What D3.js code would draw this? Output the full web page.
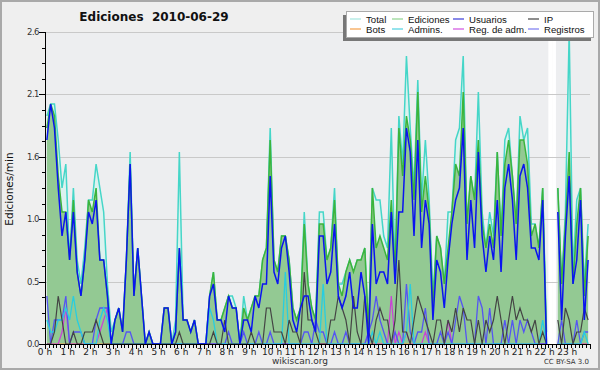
<!DOCTYPE html>
<html><head><meta charset="utf-8">
<script src="https://cdn.jsdelivr.net/npm/d3@7"></script>
<style>body{margin:0;background:#fff}svg{display:block}</style>
</head><body><svg id="c" width="600" height="370"></svg>
<script>
const title = "Ediciones\u00a0\u00a02010-06-29";
const yTitle = "Ediciones/min";
const hourLabels = d3.range(24).map(h => h + " h");
const yTickLabels = ["0.0","0.5","1.0","1.6","2.1","2.6"];
const yMax = 2.6;

// 10-minute bins, edits per minute (144 values)
const total = [
1.9,2.0,2.0,1.7,1.3,1.5,0.7,1.3,0.7,0.5,0.8,1.2,
1.2,1.5,1.3,1.1,0.5,0.1,0.2,0.3,0.1,0.7,1.6,0.4,
0.8,0.4,0,0.1,0,0,0,0.3,0.3,0,0.2,1.6,
0.2,0.2,0.1,0.2,0,0,0,0.4,0.6,0.2,0.2,0.3,
0.4,0.4,0.3,0,0.4,0.2,0.3,0.4,0.4,0.7,0.8,1.8,
0.7,0.6,0.9,0.9,0.7,0.3,0.2,0.3,1.1,0.5,0.3,0.2,
1.1,1.1,0.7,0.8,1.3,0.5,0.5,0.6,0.7,0.6,0.7,0.7,
0.8,0.1,1.3,1.2,1.2,0.9,0.8,1.8,0.6,1.9,1.5,2.4,
1.8,1.3,2.2,1.2,1.7,1.2,0.4,0.9,0.8,0.5,1.1,1.1,
1.7,1.8,2.4,1.0,1.4,1.2,2.1,1.1,0.8,1.1,0.9,1.6,
0.9,1.7,1.8,1.4,1.0,1.9,1.7,1.8,1.0,1.0,0.8,1.3,
0.1,null,null,1.3,0.5,1.1,2.6,0.6,1.2,1.3,0.5,1.0];
const ediciones = [
1.8,2.0,1.9,1.4,1.1,1.1,0.7,1.2,0.6,0.4,0.7,1.2,
1.1,1.3,0.7,0.7,0.4,0,0.2,0.3,0.1,0.7,1.5,0.4,
0.8,0.4,0,0.1,0,0,0,0.3,0.3,0,0.1,0.8,
0.2,0.2,0.1,0.2,0,0,0,0.4,0.6,0.2,0.2,0.3,
0.4,0.3,0.3,0,0.3,0.2,0.3,0.4,0.4,0.7,0.8,1.7,
0.7,0.6,0.9,0.9,0.7,0.3,0.2,0.3,1.0,0.5,0.3,0.2,
1.0,1.0,0.7,0.8,1.2,0.5,0.4,0.6,0.7,0.6,0.7,0.7,
0.8,0.1,1.3,0.8,0.9,0.8,0.7,1.2,0.6,1.8,1.4,1.9,
1.7,1.2,2.1,1.1,1.4,1.1,0.3,0.9,0.8,0.5,0.8,1.1,
1.5,1.4,2.1,1.0,1.4,1.2,1.7,1.0,0.8,1.0,0.8,1.6,
0.9,1.5,1.7,1.4,1.0,1.7,1.7,1.5,0.9,1.0,0.8,1.3,
0,null,null,1.3,0.5,1.0,1.6,0.5,1.0,1.3,0.4,0.9];
const usuarios = [
1.7,2.0,1.8,1.3,0.9,1.1,0.7,1.1,0.6,0.4,0.7,1.1,
1.0,1.2,0.7,0.7,0.4,0,0.2,0.3,0.1,0.7,1.5,0.4,
0.8,0.4,0,0.1,0,0,0,0.3,0.3,0,0.1,0.8,
0.2,0.2,0.1,0.2,0,0,0,0.4,0.5,0.2,0.2,0.1,
0.4,0.3,0.3,0,0.2,0.2,0.1,0.4,0.3,0.5,0.5,1.4,
0.6,0.5,0.8,0.9,0.6,0.2,0.1,0.3,0.4,0.4,0.2,0.1,
0.9,0.9,0.5,0.6,1.0,0.4,0.3,0.4,0.6,0.3,0.3,0.6,
0.4,0,1.0,0.5,0.6,0.6,0.5,1.1,0.5,1.1,1.1,1.8,
1.6,0.9,1.7,0.8,1.2,1.0,0.2,0.7,0.6,0.3,0.7,1.0,
1.2,1.3,1.8,0.7,1.2,0.8,1.6,0.9,0.6,0.9,0.7,1.2,
0.6,1.3,1.5,1.2,0.7,1.4,1.5,1.3,0.8,0.8,0.7,1.2,
0,null,null,1.1,0.2,0.9,1.4,0.5,0.7,1.2,0.2,0.7];
const ip = [
0,0,0.1,0.4,0.2,0,0,0.1,0,0,0.1,0.1,
0.1,0.2,0.1,0,0,0,0,0,0,0,0,0,
0,0,0,0,0,0,0,0,0,0,0,0.1,
0,0,0,0,0,0,0,0,0.1,0,0,0.2,
0,0,0,0,0,0,0.1,0,0,0,0.3,0.3,
0.1,0.1,0.1,0,0.2,0.1,0.1,0,0.6,0.2,0.2,0.1,
0,0,0,0.2,0.2,0.4,0.3,0.2,0,0.4,0.1,0,
0.4,0.1,0,0.2,0.3,0.2,0.2,0,0.2,0.7,0.1,0.1,
0,0.2,0.4,0.3,0.2,0.1,0,0.2,0.2,0,0.2,0.1,
0.3,0.1,0.3,0.2,0.2,0,0.2,0,0.2,0.1,0.2,0.4,
0.2,0,0.2,0.4,0.2,0.3,0.2,0.2,0.1,0.2,0,0.1,
0,null,null,0.2,0,0.3,0.2,0,0.1,0.1,0.3,0.2];
const bots = d3.range(144).map(i => (i === 133 || i === 134) ? null : 0);
const admins = [
0.2,0.1,0.1,0.2,0.2,0.3,0.2,0.4,0.2,0.1,0,0,
0,0,0.2,0.3,0.2,0,0,0,0,0,0,0,
0,0,0,0,0,0,0,0,0,0,0,0,
0,0,0,0,0,0,0,0.3,0.2,0,0,0,
0,0,0,0,0,0,0,0,0,0,0,0,
0,0,0,0.6,0,0,0,0,0,0,0,0,
0,0.5,0,0,0,0,0,0,0,0,0,0,
0,0,0.1,0,0.1,0,0,0,0,0,0,0.1,
0.5,0,0,0,0,0,0,0,0,0,0,0,
0,0,0,0,0,0,0,0,0,0,0,0,
0,0,0,0,0,0,0,0,0,0,0,0.2,
0,null,null,0,0,0,0,0,0,0,0.1,0];
const regAdm = [
0,0,0,0,0.1,0.3,0,0,0,0,0,0,
0,0,0.1,0.2,0.3,0,0,0,0,0,0,0,
0,0,0,0,0,0,0,0,0,0,0,0,
0,0,0,0,0,0,0,0,0,0,0,0,
0,0,0,0,0,0,0,0,0,0,0,0,
0,0,0,0,0,0,0,0,0,0,0,0,
0,0,0,0,0,0,0,0,0,0,0,0,
0,0.1,0,0,0,0,0,0.4,0,0.1,0,0.1,
0,0,0,0,0.1,0,0,0,0,0,0.2,0,
0,0,0,0,0,0,0,0,0,0,0,0,
0,0,0,0,0,0,0,0,0,0,0,0,
0,null,null,0,0,0,0,0,0,0,0,0];
const registros = [
0.4,0,0.2,0.2,0.2,0.4,0,0.1,0.1,0.1,0,0,
0,0.2,0.3,0.3,0.3,0,0,0,0,0.1,0.1,0,
0,0,0,0,0,0,0,0,0,0,0,0,
0,0,0,0,0,0,0,0,0,0,0,0,
0.1,0,0,0,0.1,0,0,0,0.1,0,0,0.1,
0,0,0,0,0,0,0,0,0.1,0.1,0,0.2,
0.1,0.1,0,0,0.1,0,0,0.1,0,0,0,0,
0,0.1,0.2,0.4,0.2,0.1,0,0,0.1,0,0,0.5,
0.1,0,0.1,0.1,0.3,0,0,0,0.1,0,0.1,0,
0.2,0.4,0.3,0,0,0,0.4,0.3,0,0.3,0,0,
0,0.2,0,0.2,0,0.2,0.1,0.2,0.1,0,0,0,
0,null,null,0,0.2,0,0,0,0.2,0,0.1,0.1];

const legendNames = ["Total","Ediciones","Usuarios","IP","Bots","Admins.","Reg. de adm.","Registros"];
const legendColors = ["#a6e6df","#8fd48f","#3b3bd9","#444444","#f5a04a","#4fd0e0","#d050e0","#7b7bf0"];

const svg = d3.select("#c");
const W = 600, H = 370;
const L = 45, R = 590, T = 32, B = 344;
const N = total.length;

svg.append("rect").attr("x",1).attr("y",1).attr("width",W-2).attr("height",H-2)
  .attr("fill","#efefef").attr("stroke","#a9a9a9").attr("stroke-width",2);
svg.append("rect").attr("x",L).attr("y",T).attr("width",R-L).attr("height",B-T).attr("fill","#edeef0");

const x = d3.scaleLinear().domain([0,N]).range([L,R]);
const y = d3.scaleLinear().domain([0,yMax]).range([B,T]);
const yTicks = yTickLabels.map((_,k) => k*yMax/5);

// missing-data bins
svg.append("g").selectAll("rect").data(d3.range(N).filter(i => total[i] === null)).join("rect")
  .attr("x", i => x(i)).attr("width", i => x(i+1)-x(i)).attr("y", T).attr("height", B-T).attr("fill","#ffffff");

// grid
svg.append("g").selectAll("line").data(yTicks.slice(1)).join("line")
  .attr("x1",L).attr("x2",R).attr("y1",d=>Math.round(y(d))+0.5).attr("y2",d=>Math.round(y(d))+0.5)
  .attr("stroke","#c9c9c9").attr("stroke-width",1);

const def = d => d !== null;
const area = d3.area().defined(def).x((d,i)=>x(i+0.5)).y0(y(0)).y1(d=>y(d));
const line = d3.line().defined(def).x((d,i)=>x(i+0.5)).y(d=>y(d));

svg.append("path").datum(total).attr("d",area).attr("fill","#d9f2ee").attr("opacity",0.9);
svg.append("path").datum(total).attr("d",line).attr("fill","none").attr("stroke","#45d6c8").attr("stroke-width",1.5);
svg.append("path").datum(ediciones).attr("d",area).attr("fill","#93c993");
svg.append("path").datum(ediciones).attr("d",line).attr("fill","none").attr("stroke","#3cb43c").attr("stroke-width",1.5);

const series = [
  [bots,"#f5a04a",1.2],
  [regAdm,"#cc3fd8",1.2],
  [registros,"#5555f2",1.3],
  [admins,"#28cde0",1.3],
  [ip,"#444444",1.2],
  [usuarios,"#0a14f0",1.5]
];
series.forEach(([data,col,w]) => {
  svg.append("path").datum(data).attr("d",line).attr("fill","none").attr("stroke",col).attr("stroke-width",w);
});

// axes
const ax = svg.append("g").attr("stroke","#000").attr("shape-rendering","crispEdges");
ax.append("line").attr("x1",L).attr("x2",R).attr("y1",B+0.5).attr("y2",B+0.5);
ax.append("line").attr("x1",L+0.5).attr("x2",L+0.5).attr("y1",T).attr("y2",B);
ax.selectAll(".xt").data(d3.range(N+1)).join("line")
  .attr("x1",d=>Math.round(x(d))+0.5).attr("x2",d=>Math.round(x(d))+0.5)
  .attr("y1",B).attr("y2",d=> d%6===0 ? B+5 : B+4);
const yMinor = d3.range(0,21).map(k=>k*yMax/20);
ax.selectAll(".yt").data(yMinor).join("line")
  .attr("y1",d=>Math.round(y(d))+0.5).attr("y2",d=>Math.round(y(d))+0.5)
  .attr("x1",(d,k)=> k%4===0 ? L-6 : L-3).attr("x2",L);

const tf = "'DejaVu Sans', Verdana, sans-serif";
svg.append("g").selectAll("text").data(hourLabels).join("text")
  .attr("x",(d,h)=>x(h*6)).attr("y",355).attr("text-anchor","middle")
  .attr("font-family",tf).attr("font-size",9).attr("fill","#222").text(d=>d);
svg.append("g").selectAll("text").data(yTickLabels).join("text")
  .attr("x",L-6).attr("y",(d,k)=>y(yTicks[k])+3).attr("text-anchor","end")
  .attr("font-family",tf).attr("font-size",8.5).attr("fill","#333").attr("letter-spacing",-0.5).text(d=>d);

svg.append("text").attr("x",154).attr("y",21).attr("text-anchor","middle")
  .attr("font-family",tf).attr("font-weight","bold").attr("font-size",12).attr("fill","#111").text(title);
svg.append("text").attr("transform","translate(13,189) rotate(-90)").attr("text-anchor","middle")
  .attr("font-family",tf).attr("font-size",10.5).attr("fill","#111").text(yTitle);
svg.append("text").attr("x",300).attr("y",364).attr("text-anchor","middle")
  .attr("font-family",tf).attr("font-size",9).attr("fill","#333").text("wikiscan.org");
svg.append("text").attr("x",589).attr("y",364).attr("text-anchor","end")
  .attr("font-family",tf).attr("font-size",7).attr("fill","#333").text("CC BY-SA  3.0");

// legend
const lg = svg.append("g");
lg.append("rect").attr("x",343).attr("y",15).attr("width",248).attr("height",26).attr("fill","#777");
lg.append("rect").attr("x",346.5).attr("y",11.5).attr("width",247).attr("height",26).attr("fill","#fff").attr("stroke","#aaa");
const colX = [350,392,453,528];
legendNames.forEach((n,k) => {
  const c = k%4, r = Math.floor(k/4);
  const yy = 19 + r*10;
  lg.append("line").attr("x1",colX[c]).attr("x2",colX[c]+11).attr("y1",yy).attr("y2",yy)
    .attr("stroke",legendColors[k]).attr("stroke-width",1.2);
  lg.append("text").attr("x",colX[c]+16).attr("y",yy+3.5).attr("font-family","'Liberation Sans', Arial, sans-serif")
    .attr("font-size",9.6).attr("fill","#111").text(n);
});
</script></body></html>
